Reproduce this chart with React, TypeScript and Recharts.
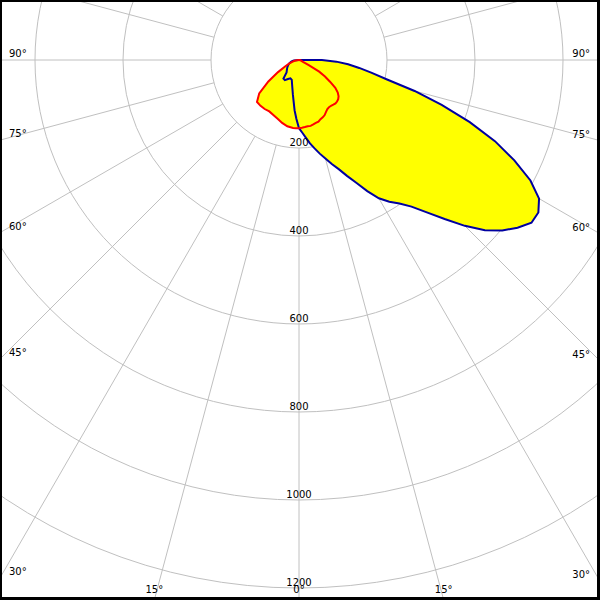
import { RadarChart, Radar, PolarGrid, PolarAngleAxis, PolarRadiusAxis } from "recharts";

// gamma angles (deg, 0 = straight down, + = right side)
const GAMMA = [
  -90, -85, -80, -75, -70, -65, -60, -55, -50, -45, -40, -35, -30, -25, -20, -15, -10, -5, -2.5,
  0, 2.5, 5, 7.5, 10, 12.5, 15, 17.5, 20, 22.5, 25, 27.5, 30, 32.5, 35, 37.5, 40, 42.5, 45,
  47.5, 50, 52.5, 55, 57.5, 60, 62.5, 65, 67.5, 70, 72.5, 75, 77.5, 80, 82.5, 85, 87.5, 90,
];

// cd/klm, C0-C180 plane (blue)
const BLUE_CD = [
  0, 12, 17, 20, 24, 27, 30, 33, 36, 40, 55, 56, 50, 46, 48, 60, 80, 115, 134,
  155, 165, 177, 191, 204, 218, 232, 248, 264, 285, 308, 336, 363, 382, 398, 420, 452, 490, 533,
  573, 603, 626, 645, 645, 630, 593, 540, 482, 413, 340, 272, 205, 168, 138, 112, 85, 52,
];

// cd/klm, C90-C270 plane (red)
const RED_CD = [
  0, 5, 10, 16, 24, 35, 55, 85, 118, 135, 136, 136, 135, 138, 142, 148, 153, 155, 155,
  155, 154, 153, 152, 152, 150, 148, 147, 143, 141, 138, 133, 129, 127, 127, 128, 129, 128, 126,
  122, 115, 104, 86, 70, 53, 25, 10, 7, 6, 4, 4, 3, 3, 2, 2, 1, 0,
];

const RING_TICKS = [200, 400, 600, 800, 1000, 1200, 1400];
const ANGLE_TICKS = [0, 15, 30, 45, 60, 75, 90, 105, 120, 135, 150, 165, 180, 195, 210, 225, 240, 255, 270, 285, 300, 315, 330, 345];

const W = 600;
const H = 600;
const CX = 299;
const CY = 60;
const FONT = "'DejaVu Sans', Verdana, sans-serif";

const data = GAMMA.map((g, i) => ({
  angle: (g + 360) % 360,
  c0: BLUE_CD[i],
  c90: RED_CD[i],
}));

// put the angle labels where each radial line leaves the frame
function AngleTick(props: any) {
  const { x, y, payload } = props;
  const dx = x - CX;
  const dy = y - CY;
  if (dy < -1) return null;
  let t = Infinity;
  let side = "";
  if (dx < -0.01 && -CX / dx < t) { t = -CX / dx; side = "left"; }
  if (dx > 0.01 && (W - CX) / dx < t) { t = (W - CX) / dx; side = "right"; }
  if (dy > 0.01 && (H - CY) / dy < t) { t = (H - CY) / dy; side = "bottom"; }
  const hx = CX + dx * t;
  const hy = CY + dy * t;
  const v = payload.value > 180 ? 360 - payload.value : payload.value;
  const common = { fontSize: 10, fontFamily: FONT, fill: "#000" };
  if (side === "left") return <text x={9} y={hy - 3} textAnchor="start" {...common}>{`${v}°`}</text>;
  if (side === "right") return <text x={590} y={hy - 3} textAnchor="end" {...common}>{`${v}°`}</text>;
  return <text x={hx} y={593} textAnchor="middle" {...common}>{`${v}°`}</text>;
}

function RadiusTick(props: any) {
  const { x, y, payload } = props;
  return (
    <text x={x} y={y - 2} textAnchor="middle" fontSize={10} fontFamily={FONT} fill="#000">
      {payload.value}
    </text>
  );
}

export default function App() {
  return (
    <div style={{ position: "absolute", left: 0, top: 0, width: W, height: H, overflow: "hidden", background: "#fff" }}>
      <RadarChart
        width={W}
        height={H}
        data={data}
        cx={CX}
        cy={CY}
        innerRadius={88}
        outerRadius={616}
        startAngle={-90}
        endAngle={270}
        margin={{ top: 0, right: 0, bottom: 0, left: 0 }}
      >
        <PolarAngleAxis
          dataKey="angle"
          type="number"
          domain={[0, 360]}
          ticks={ANGLE_TICKS}
          axisLine={false}
          tickLine={false}
          tick={<AngleTick />}
        />
        <PolarRadiusAxis
          angle={-90}
          domain={[200, 1400]}
          ticks={RING_TICKS}
          allowDataOverflow
          axisLine={false}
          tickLine={false}
          tick={<RadiusTick />}
        />
        <Radar dataKey="c0" fill="#ffff00" fillOpacity={1} stroke="none" dot={false} activeDot={false} isAnimationActive={false} />
        <Radar dataKey="c90" fill="#ffff00" fillOpacity={1} stroke="none" dot={false} activeDot={false} isAnimationActive={false} />
        <PolarGrid gridType="circle" stroke="#c0c0c0" strokeWidth={1} />
        <Radar dataKey="c0" fill="none" fillOpacity={0} stroke="#0000a0" strokeWidth={2} dot={false} activeDot={false} isAnimationActive={false} />
        <Radar dataKey="c90" fill="none" fillOpacity={0} stroke="#ff0000" strokeWidth={2} dot={false} activeDot={false} isAnimationActive={false} />
      </RadarChart>
      <div
        style={{
          position: "absolute",
          inset: 0,
          boxSizing: "border-box",
          borderStyle: "solid",
          borderColor: "#000",
          borderWidth: "2px 3px 3px 2px",
          pointerEvents: "none",
        }}
      />
    </div>
  );
}
